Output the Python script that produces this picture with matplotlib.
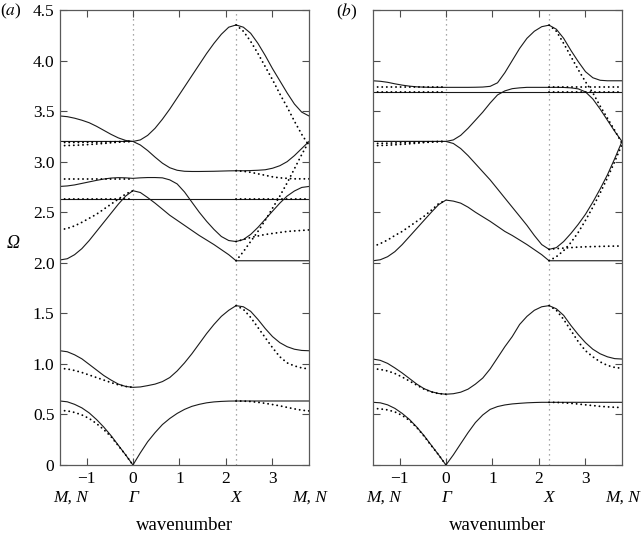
import matplotlib
matplotlib.use("Agg")
import matplotlib.pyplot as plt
from matplotlib.transforms import blended_transform_factory

plt.rcParams['font.family'] = 'serif'
plt.rcParams['font.serif'] = ['Liberation Serif', 'DejaVu Serif']
plt.rcParams['mathtext.fontset'] = 'stix'

# wavenumber samples along the path M -> Gamma -> X -> M
k_mg = [-1.571, -1.414, -1.257, -1.100, -0.942, -0.785, -0.628, -0.471, -0.314, -0.157, 0.0]
k_gx = [0.0, 0.159, 0.317, 0.476, 0.635, 0.793, 0.952, 1.111, 1.269, 1.428,
        1.587, 1.745, 1.904, 2.063, 2.221]
k_xm = [2.221, 2.378, 2.535, 2.692, 2.849, 3.006, 3.164, 3.321, 3.478, 3.635, 3.792]
k_path = k_mg + k_gx + k_xm

sym_points = [-1.571, 0.0, 2.221, 3.792]
sym_labels = ['M, N', 'Γ', 'X', 'M, N']
x_ticks = [-1, 0, 1, 2, 3]
y_ticks = [0, 0.5, 1.0, 1.5, 2.0, 2.5, 3.0, 3.5, 4.0, 4.5]
y_ticklabels = ['0', '0.5', '1.0', '1.5', '2.0', '2.5', '3.0', '3.5', '4.0', '4.5']

# ---- panel (a): solid bands along k_path (M-G, G-X, X-M)
a_band1 = ([0.633, 0.625, 0.60, 0.565, 0.515, 0.45, 0.375, 0.29, 0.195, 0.10, 0.0]
           + [0.0, 0.12, 0.23, 0.32, 0.40, 0.46, 0.51, 0.55, 0.58, 0.60, 0.615, 0.624, 0.629, 0.632, 0.633]
           + [0.633] * 11)
a_band2 = ([1.13, 1.12, 1.09, 1.05, 0.995, 0.94, 0.885, 0.84, 0.80, 0.777, 0.768]
           + [0.768, 0.772, 0.785, 0.80, 0.825, 0.865, 0.93, 1.01, 1.10, 1.20, 1.30, 1.39, 1.47, 1.53, 1.576]
           + [1.576, 1.565, 1.52, 1.44, 1.35, 1.27, 1.21, 1.17, 1.145, 1.133, 1.13])
a_band3 = ([2.028, 2.04, 2.08, 2.14, 2.22, 2.31, 2.40, 2.49, 2.58, 2.66, 2.713]
           + [2.713, 2.695, 2.645, 2.59, 2.53, 2.47, 2.42, 2.37, 2.32, 2.27, 2.225, 2.18, 2.13, 2.08, 2.02]
           + [2.02] * 11)
a_band4 = ([2.755, 2.76, 2.77, 2.785, 2.80, 2.815, 2.828, 2.838, 2.842, 2.84, 2.835]
           + [2.835, 2.84, 2.843, 2.843, 2.84, 2.82, 2.78, 2.70, 2.60, 2.50, 2.41, 2.33, 2.26, 2.22, 2.21]
           + [2.21, 2.23, 2.28, 2.35, 2.43, 2.51, 2.59, 2.66, 2.71, 2.745, 2.755])
a_band5 = ([3.2] * 11
           + [3.2, 3.165, 3.11, 3.045, 2.985, 2.94, 2.915, 2.905, 2.903, 2.903, 2.904, 2.905, 2.907, 2.909, 2.91]
           + [2.91, 2.91, 2.912, 2.915, 2.92, 2.935, 2.96, 3.0, 3.06, 3.13, 3.2])
a_band6 = ([3.452, 3.445, 3.43, 3.41, 3.385, 3.35, 3.31, 3.27, 3.235, 3.21, 3.2]
           + [3.2, 3.215, 3.26, 3.33, 3.42, 3.52, 3.63, 3.74, 3.85, 3.96, 4.07, 4.17, 4.26, 4.33, 4.352]
           + [4.352, 4.33, 4.27, 4.17, 4.05, 3.92, 3.80, 3.68, 3.57, 3.49, 3.452])
a_flat = 2.63

# panel (a): dotted bands on M-G and X-M
a_dot_mg = [
    [0.54, 0.535, 0.52, 0.495, 0.46, 0.41, 0.35, 0.28, 0.19, 0.10, 0.0],
    [0.955, 0.95, 0.935, 0.915, 0.89, 0.865, 0.84, 0.815, 0.793, 0.777, 0.768],
    [2.325, 2.34, 2.365, 2.40, 2.44, 2.48, 2.53, 2.58, 2.63, 2.68, 2.713],
    [2.63] * 11,
    [2.83] * 11,
    [3.158, 3.16, 3.162, 3.165, 3.17, 3.175, 3.18, 3.187, 3.193, 3.198, 3.2],
    [3.19, 3.19, 3.19, 3.19, 3.192, 3.193, 3.195, 3.196, 3.198, 3.2, 3.2],
]
a_dot_xm = [
    [0.633, 0.632, 0.628, 0.62, 0.61, 0.598, 0.585, 0.57, 0.555, 0.542, 0.535],
    [1.576, 1.54, 1.46, 1.36, 1.26, 1.16, 1.07, 1.01, 0.98, 0.96, 0.95],
    [2.21, 2.23, 2.25, 2.265, 2.28, 2.29, 2.30, 2.31, 2.315, 2.32, 2.325],
    [2.63] * 11,
    [2.91, 2.905, 2.895, 2.88, 2.865, 2.85, 2.84, 2.835, 2.83, 2.83, 2.83],
    [2.02, 2.11, 2.21, 2.31, 2.42, 2.54, 2.66, 2.79, 2.93, 3.07, 3.2],
    [4.352, 4.29, 4.19, 4.07, 3.94, 3.81, 3.67, 3.54, 3.40, 3.27, 3.16],
]

# ---- panel (b): solid bands
b_band1 = ([0.62, 0.615, 0.595, 0.56, 0.51, 0.45, 0.375, 0.29, 0.195, 0.10, 0.0]
           + [0.0, 0.10, 0.21, 0.32, 0.42, 0.495, 0.55, 0.578, 0.594, 0.604, 0.61, 0.615, 0.618, 0.62, 0.62]
           + [0.62] * 11)
b_band2 = ([1.048, 1.035, 1.005, 0.96, 0.91, 0.855, 0.80, 0.755, 0.725, 0.707, 0.70]
           + [0.70, 0.705, 0.72, 0.75, 0.80, 0.86, 0.95, 1.06, 1.17, 1.27, 1.39, 1.47, 1.53, 1.565, 1.576]
           + [1.576, 1.545, 1.48, 1.38, 1.29, 1.21, 1.145, 1.10, 1.07, 1.052, 1.048])
b_band3 = ([2.02, 2.03, 2.06, 2.11, 2.18, 2.26, 2.34, 2.42, 2.50, 2.575, 2.62]
           + [2.62, 2.61, 2.59, 2.55, 2.50, 2.455, 2.41, 2.36, 2.31, 2.27, 2.225, 2.18, 2.13, 2.08, 2.02]
           + [2.02] * 11)
b_band4 = ([3.2] * 11
           + [3.2, 3.18, 3.13, 3.06, 2.98, 2.90, 2.82, 2.73, 2.64, 2.55, 2.46, 2.37, 2.27, 2.18, 2.133]
           + [2.133, 2.15, 2.21, 2.29, 2.38, 2.48, 2.60, 2.73, 2.87, 3.03, 3.2])
b_band5 = ([3.2] * 11
           + [3.2, 3.215, 3.26, 3.33, 3.41, 3.49, 3.58, 3.66, 3.70, 3.722, 3.73, 3.735, 3.735, 3.735, 3.735]
           + [3.735, 3.735, 3.734, 3.73, 3.72, 3.69, 3.62, 3.52, 3.41, 3.30, 3.2])
b_band6 = ([3.80, 3.795, 3.785, 3.77, 3.757, 3.747, 3.74, 3.737, 3.735, 3.735, 3.735]
           + [3.735, 3.735, 3.735, 3.735, 3.736, 3.738, 3.745, 3.78, 3.88, 4.00, 4.12, 4.22, 4.29, 4.335, 4.35]
           + [4.35, 4.31, 4.22, 4.10, 3.99, 3.89, 3.83, 3.805, 3.80, 3.80, 3.80])
b_flat = 3.69

b_dot_mg = [
    [0.56, 0.555, 0.545, 0.525, 0.49, 0.44, 0.37, 0.285, 0.19, 0.10, 0.0],
    [0.953, 0.945, 0.93, 0.905, 0.87, 0.83, 0.79, 0.75, 0.722, 0.706, 0.70],
    [2.16, 2.19, 2.225, 2.27, 2.31, 2.36, 2.41, 2.46, 2.52, 2.585, 2.62],
    [3.158, 3.16, 3.163, 3.167, 3.172, 3.177, 3.183, 3.189, 3.194, 3.198, 3.2],
    [3.18, 3.181, 3.183, 3.185, 3.187, 3.19, 3.192, 3.195, 3.197, 3.199, 3.2],
    [3.69] * 11,
    [3.738] * 11,
]
b_dot_xm = [
    [0.62, 0.619, 0.615, 0.61, 0.603, 0.595, 0.588, 0.58, 0.575, 0.571, 0.568],
    [1.576, 1.53, 1.44, 1.33, 1.22, 1.13, 1.07, 1.02, 0.985, 0.965, 0.956],
    [2.133, 2.14, 2.145, 2.15, 2.155, 2.158, 2.16, 2.162, 2.164, 2.165, 2.166],
    [2.02, 2.06, 2.12, 2.20, 2.30, 2.42, 2.55, 2.69, 2.84, 3.00, 3.17],
    [3.69] * 11,
    [3.738] * 11,
    [4.35, 4.29, 4.17, 4.04, 3.91, 3.79, 3.68, 3.55, 3.43, 3.31, 3.18],
]

DOT = dict(color='k', lw=1.35, ls=(0, (0.05, 2.4)), dash_capstyle='round')


def draw_panel(ax, bands, flat, dot_mg, dot_xm, show_ylabels):
    for kv in sym_points[1:3]:
        ax.axvline(kv, color='0.55', lw=0.9, ls=(0, (1, 3)), zorder=0)
    for band in bands:
        ax.plot(k_path, band, color='#1a1a1a', lw=0.8)
    ax.axhline(flat, color='#1a1a1a', lw=0.8)
    for d in dot_mg:
        ax.plot(k_mg, d, **DOT)
    for d in dot_xm:
        ax.plot(k_xm, d, **DOT)

    ax.set_xlim(sym_points[0], sym_points[-1])
    ax.set_ylim(0, 4.5)
    ax.set_xticks(x_ticks)
    ax.set_yticks(y_ticks)
    if show_ylabels:
        ax.set_yticklabels(y_ticklabels)
    else:
        ax.set_yticklabels([])
    ax.tick_params(direction='in', top=True, right=True, length=5, width=0.8,
                   labelsize=12.5, color='0.3', pad=4)
    for s in ax.spines.values():
        s.set_color('0.35')
        s.set_linewidth(0.9)

    trans = blended_transform_factory(ax.transData, ax.transAxes)
    offsets = [0.23, 0.0, 0.0, 0.01]
    for kv, lab, off in zip(sym_points, sym_labels, offsets):
        ax.text(kv + off, -0.072, lab, transform=trans, ha='center', va='center',
                fontsize=12.5, style='italic')
    ax.text(0.5, -0.132, 'wavenumber', transform=ax.transAxes, ha='center',
            va='center', fontsize=13.5)


fig = plt.figure(figsize=(6.42, 5.35), dpi=100)
ax_a = fig.add_axes([60 / 642, 70 / 535, 249 / 642, 455 / 535])
ax_b = fig.add_axes([373 / 642, 70 / 535, 249 / 642, 455 / 535])

draw_panel(ax_a, [a_band1, a_band2, a_band3, a_band4, a_band5, a_band6],
           a_flat, a_dot_mg, a_dot_xm, True)
draw_panel(ax_b, [b_band1, b_band2, b_band3, b_band4, b_band5, b_band6],
           b_flat, b_dot_mg, b_dot_xm, False)

fig.text(11 / 642, 1 - 11 / 535, r'($\mathit{a}$)', ha='center', va='center', fontsize=12.5)
fig.text(347 / 642, 1 - 12 / 535, r'($\mathit{b}$)', ha='center', va='center', fontsize=12.5)
fig.text(13 / 642, 1 - 244 / 535, 'Ω', ha='center', va='center', fontsize=13, style='italic')

plt.savefig('out.png', dpi=100)
